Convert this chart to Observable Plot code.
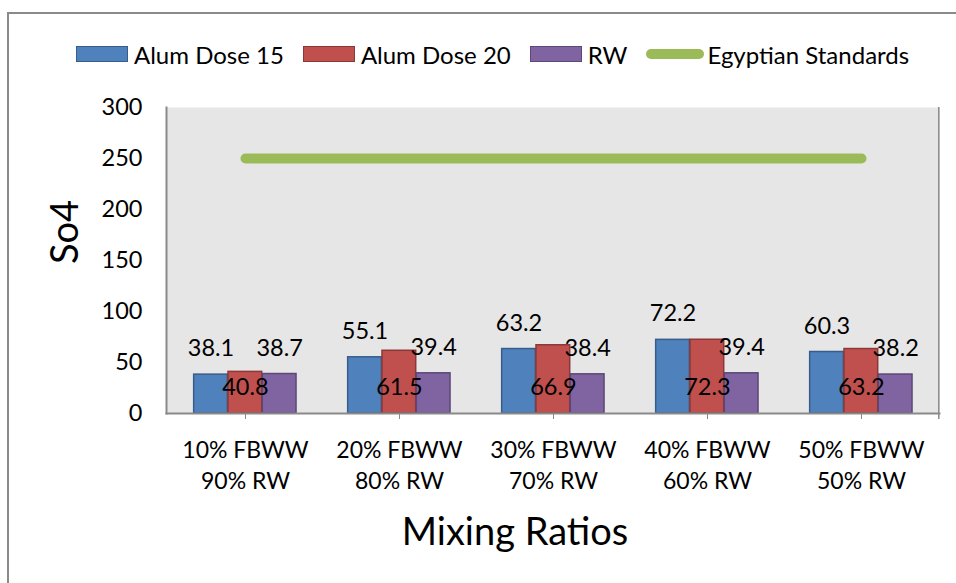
<!DOCTYPE html>
<html>
<head>
<meta charset="utf-8">
<script src="https://cdn.jsdelivr.net/npm/d3@7"></script>
<script src="https://cdn.jsdelivr.net/npm/@observablehq/plot@0.6"></script>
<style>
  html, body { margin: 0; padding: 0; background: #fff; }
  body { width: 956px; height: 583px; overflow: hidden; position: relative; font-family: Lato, "Open Sans", sans-serif; color: #000; }
  #border { position: absolute; left: 7px; top: 12px; width: 1100px; height: 1100px; border: 2px solid #8a8a8a; box-sizing: border-box; }
  #legend { position: absolute; left: 76px; top: 40px; height: 28px; display: flex; align-items: center; font-size: 24px; white-space: nowrap; }
  .item { display: flex; align-items: center; margin-right: 19px; }
  .sw { width: 50px; height: 14px; margin-right: 6px; border: 1.5px solid; }
  .ln { width: 58px; height: 10px; border-radius: 5px; margin-right: 3px; }
  #chart { position: absolute; left: 0; top: 80px; }
  #ytitle { position: absolute; left: 63px; top: 232px; font-size: 38px; transform: translate(-50%, -50%) rotate(-90deg); white-space: nowrap; }
  #xtitle { position: absolute; left: 515px; top: 530px; font-size: 38px; transform: translate(-50%, -50%); white-space: nowrap; }
</style>
</head>
<body>
<div id="border"></div>
<div id="legend"></div>
<div id="chart"></div>
<div id="ytitle">So4</div>
<div id="xtitle">Mixing Ratios</div>
<script>
const categories = ["10% FBWW\n90% RW", "20% FBWW\n80% RW", "30% FBWW\n70% RW", "40% FBWW\n60% RW", "50% FBWW\n50% RW"];
const alumDose15 = [38.1, 55.1, 63.2, 72.2, 60.3];
const alumDose20 = [40.8, 61.5, 66.9, 72.3, 63.2];
const rw = [38.7, 39.4, 38.4, 39.4, 38.2];
const egyptianStandards = [250, 250, 250, 250, 250];
const yTicks = [0, 50, 100, 150, 200, 250, 300];
const seriesNames = ["Alum Dose 15", "Alum Dose 20", "RW", "Egyptian Standards"];

const fills = ["#4F81BD", "#C0504D", "#8064A2"];
const strokes = ["#385D8A", "#8C3836", "#5C4776"];
const lineColor = "#9BBB59";

// legend
const legend = document.getElementById("legend");
seriesNames.forEach((name, i) => {
  const it = document.createElement("div");
  it.className = "item";
  const sw = document.createElement("div");
  if (i < 3) { sw.className = "sw"; sw.style.background = fills[i]; sw.style.borderColor = strokes[i]; }
  else { sw.className = "ln"; sw.style.background = lineColor; }
  it.appendChild(sw);
  const t = document.createElement("span");
  t.textContent = name;
  it.appendChild(t);
  legend.appendChild(it);
});

const W = 956, H = 503;
const mL = 166, mR = 17, mT = 27, mB = 170;
const bw = (W - mL - mR) / categories.length;
const barW = bw * 0.222;
const off0 = bw * 0.166;

const barSeries = [alumDose15, alumDose20, rw];
const tables = barSeries.map(vals => categories.map((c, j) => ({cat: c, v: vals[j]})));
const lineData = categories.map((c, j) => ({cat: c, v: egyptianStandards[j]}));

const marks = [Plot.frame({fill: "#e6e6e6", stroke: null})];
tables.forEach((tbl, i) => {
  marks.push(Plot.barY(tbl, {
    x: "cat", y: "v", fill: fills[i], stroke: strokes[i], strokeWidth: 1.5,
    insetLeft: off0 + i * barW, insetRight: bw - off0 - (i + 1) * barW
  }));
});
marks.push(Plot.lineY(lineData, {x: "cat", y: "v", stroke: lineColor, strokeWidth: 10, strokeLinecap: "round"}));
marks.push(Plot.frame({anchor: "left", stroke: "#8a8a8a", strokeWidth: 2}));
marks.push(Plot.frame({anchor: "bottom", stroke: "#8a8a8a", strokeWidth: 2}));
marks.push(Plot.tickX([categories[categories.length - 1]], {x: d => d, dx: bw / 2, y1: 0, y2: 0, insetBottom: -6, stroke: "#8a8a8a", strokeWidth: 1.5}));
// data labels
tables.forEach((tbl, i) => {
  const dx = off0 + (i + 0.5) * barW - bw / 2;
  marks.push(Plot.text(tbl, {
    x: "cat", y: i === 1 ? () => 0 : "v", text: d => d.v.toFixed(1),
    dx, dy: -26, fontSize: 23.5, fill: "#000"
  }));
});
marks.push(Plot.axisX({tickSize: 6, tickPadding: 16, stroke: "#8a8a8a", fontSize: 23, lineHeight: 1.35, label: null}));
marks.push(Plot.axisY({ticks: yTicks, tickSize: 0, tickPadding: 24, fontSize: 23.5, label: null}));

const chart = Plot.plot({
  width: W, height: H,
  marginLeft: mL, marginRight: mR, marginTop: mT, marginBottom: mB,
  style: {fontFamily: "Lato, 'Open Sans', sans-serif", fontSize: "23px", background: "transparent", overflow: "visible", color: "#000"},
  x: {type: "band", domain: categories, padding: 0, label: null},
  y: {domain: [0, 300], label: null},
  marks
});
document.getElementById("chart").appendChild(chart);
</script>
</body>
</html>
